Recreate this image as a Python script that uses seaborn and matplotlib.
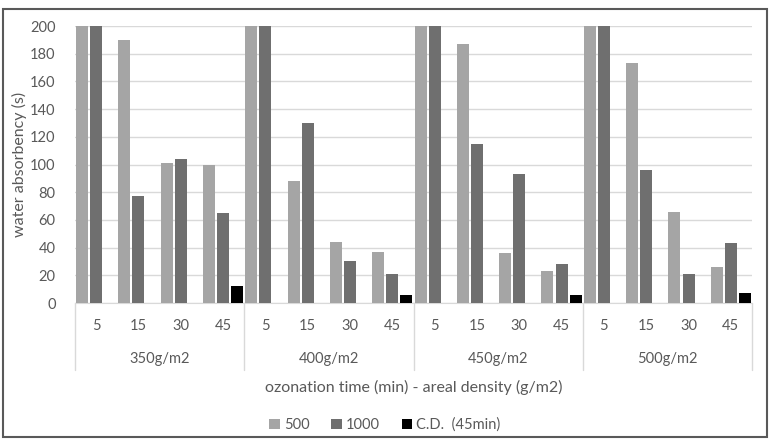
import pandas as pd
import numpy as np
import matplotlib
matplotlib.use('Agg')
import matplotlib.pyplot as plt
import matplotlib.patches as mpatches
import seaborn as sns

# Data
densities = ['350g/m2', '400g/m2', '450g/m2', '500g/m2']
times = ['5', '15', '30', '45']
series = ['500', '1000', 'C.D.  (45min)']

vals_500 = [200, 190, 101, 100,
            200, 88, 44, 37,
            200, 187, 36, 23,
            200, 173, 66, 26]
vals_1000 = [200, 77, 104, 65,
             200, 130, 30, 21,
             200, 115, 93, 28,
             200, 96, 21, 43]
vals_cd = [12, 6, 6, 7]  # only at 45 min

# Build long-form table
rows = []
cats = []
for i, d in enumerate(densities):
    for j, t in enumerate(times):
        cat = d + '-' + t
        cats.append(cat)
        k = i * 4 + j
        rows.append((cat, series[0], vals_500[k]))
        rows.append((cat, series[1], vals_1000[k]))
        if t == '45':
            rows.append((cat, series[2], vals_cd[i]))
df = pd.DataFrame(rows, columns=['cat', 'series', 'value'])

# Style
sns.set_style('white')
plt.rcParams['font.family'] = ['Lato', 'DejaVu Sans']
txt_col = '#595959'
grid_col = '#D9D9D9'
palette = ['#A5A5A5', '#6F6F6F', '#000000']

fig = plt.figure(figsize=(7.7, 4.44), dpi=100)
ax = fig.add_axes([75/770, 1-303/444, (752-75)/770, (303-26)/444])

sns.barplot(data=df, x='cat', y='value', hue='series', order=cats,
            hue_order=series, palette=palette, width=1, gap=0.15,
            edgecolor='none', linewidth=0, ax=ax, zorder=3)

ax.set_ylim(0, 200)
ax.set_xlim(-0.5, len(cats) - 0.5)
ax.set_yticks(np.arange(0, 201, 20))
ax.yaxis.grid(True, color=grid_col, linewidth=1, zorder=0)
ax.set_axisbelow(True)
for s in ['top', 'right', 'left']:
    ax.spines[s].set_visible(False)
ax.spines['bottom'].set_color(grid_col)
ax.tick_params(axis='both', length=0, labelsize=10.5, colors=txt_col)
ax.tick_params(axis='y', pad=14)
ax.set_xticks([])
ax.set_xlabel('')
ax.set_ylabel('')

# Two-level x labels
for k, cat in enumerate(cats):
    ax.text(k, -0.082, times[k % 4], transform=ax.get_xaxis_transform(),
            ha='center', va='center', fontsize=10.5, color=txt_col)
for i, d in enumerate(densities):
    ax.text(i * 4 + 1.5, -0.202, d, transform=ax.get_xaxis_transform(),
            ha='center', va='center', fontsize=10.5, color=txt_col)
for b in [-0.5, 3.5, 7.5, 11.5, 15.5]:
    ax.plot([b, b], [0, -0.242], transform=ax.get_xaxis_transform(),
            color=grid_col, linewidth=1, clip_on=False)

fig.text(0.5 * (75 + 752) / 770, 1 - 387/444, 'ozonation time (min) - areal density (g/m2)',
         ha='center', va='center', fontsize=11.5, color=txt_col)
fig.text(19/770, 1 - 164/444, 'water absorbency (s)', rotation=90,
         ha='center', va='center', fontsize=11.5, color=txt_col)

# Legend
handles, labels = ax.get_legend_handles_labels()
ax.legend_.remove()
fig.legend(handles, labels, loc='center', bbox_to_anchor=(0.5, 1 - 425/444),
           ncol=3, frameon=False, fontsize=10.5, handlelength=0.7, handleheight=0.7,
           handletextpad=0.3, columnspacing=1.5, labelcolor=txt_col)

# Outer frame
fig.patches.append(mpatches.Rectangle((3/770, 7/444), 764/770, 428/444,
                                      transform=fig.transFigure, fill=False,
                                      edgecolor='#595959', linewidth=1.5))

fig.savefig('out.png', dpi=100)
